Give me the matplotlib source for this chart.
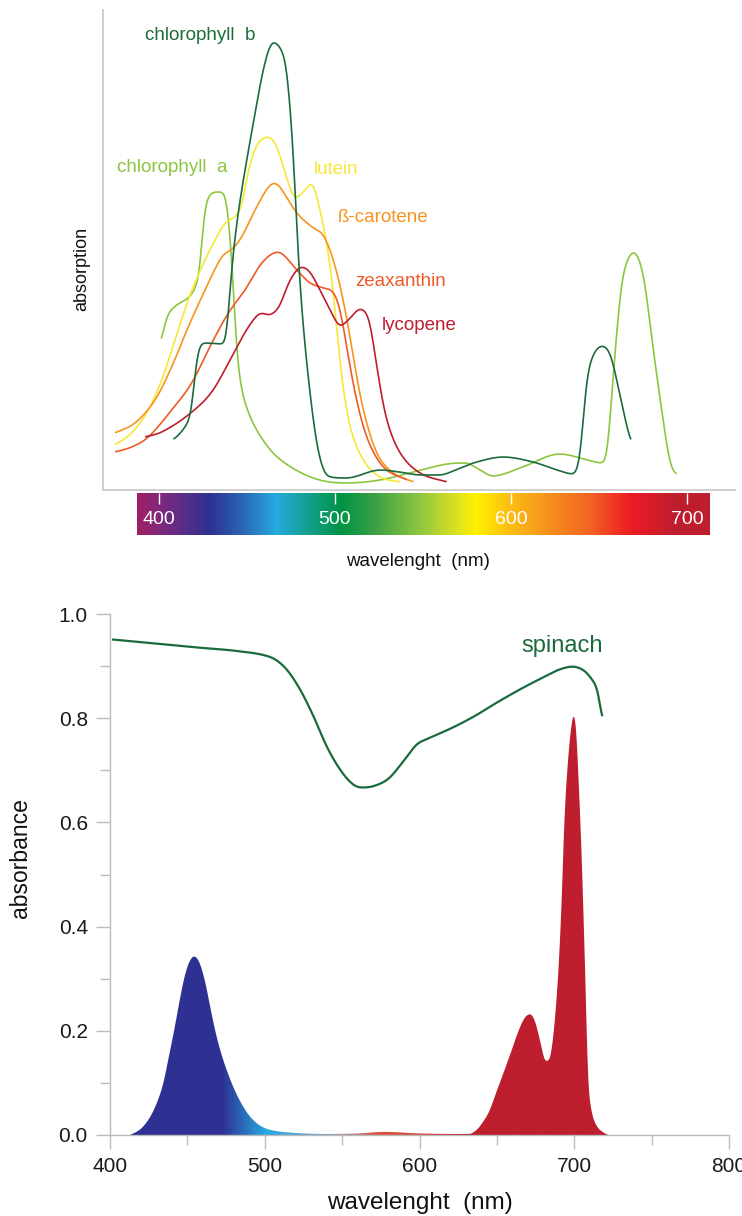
import numpy as np
import matplotlib
matplotlib.use("Agg")
import matplotlib.pyplot as plt
from matplotlib.colors import LinearSegmentedColormap

plt.rcParams['font.family'] = ['Liberation Sans', 'DejaVu Sans']

# ---------------- data: top chart (absorption, arbitrary units) ----------------
chlb_wl = [407.6, 414.2, 418, 420, 422.7, 425.6, 436, 437.9, 439.8, 442.6, 446.4, 452, 459,
           464.2, 469, 472, 475.8, 478.6, 481.4, 485.2, 489, 492.8, 496.6, 506, 525, 536, 548,
           559, 568, 578, 595, 612, 625.6, 634.7, 638.6, 642.4, 647, 651.9, 656, 659.5, 664, 667.6]
chlb_ab = [50, 63, 80, 120, 145, 147, 146, 153, 203, 253, 300, 357, 423,
           448, 440, 420, 335, 230, 163, 97, 47, 20, 13, 12, 20, 18, 15,
           15, 20, 27, 33, 28, 20, 16, 33, 110, 138, 144, 135, 110, 73, 47]

chla_wl = [400.6, 403.8, 409.5, 416, 420, 422.7, 424.6, 426.5, 431.3, 435, 437.9, 439.8, 441.7,
           443, 444.5, 448.3, 455.9, 467.2, 487, 506, 525, 544, 563, 574, 580, 589, 606, 627,
           645, 651, 653.8, 656.6, 659.6, 663, 669.5, 675, 678.8, 684, 689.8, 693.6]
chla_ab = [147, 173, 185, 192, 202, 220, 270, 290, 298, 298, 290, 253, 203,
           153, 120, 87, 57, 32, 12, 7, 10, 18, 26, 27, 22, 14, 23, 36,
           29, 27, 33, 93, 160, 215, 238, 212, 160, 93, 27, 15]

lut_wl = [374.4, 383.9, 393.4, 401, 408.5, 416, 423.7, 431.3, 436.9, 441.7, 445.5, 448.3, 450.2,
          455, 461, 466, 471.5, 476.7, 481, 486.2, 490.9, 494.7, 497.5, 500.4, 503.2, 508, 515.5,
          525, 536.4]
lut_ab = [45, 57, 80, 110, 150, 190, 223, 250, 267, 272, 280, 300, 320,
          345, 353, 345, 315, 292, 297, 307, 280, 247, 213, 163, 113, 63, 30,
          13, 8]

bcar_wl = [374.4, 385.8, 397.2, 406.6, 416, 425.6, 435, 441.7, 446.4, 454, 461.5, 465.3, 468.2,
           477.7, 487.1, 492.8, 498.5, 503.2, 507, 510.8, 515.5, 523.1, 532.6, 544]
bcar_ab = [57, 67, 90, 123, 163, 200, 233, 242, 253, 280, 303, 307, 303,
           277, 262, 255, 230, 197, 163, 123, 80, 37, 17, 8]

zea_wl = [374.4, 383.9, 393.4, 406.6, 418, 429.4, 438.8, 448.3, 457.8, 467, 477.7, 485.2, 492.8,
          498.5, 502.3, 506.1, 510.8, 517.4, 526.9, 540.2]
zea_ab = [38, 43, 53, 80, 107, 147, 177, 200, 227, 238, 220, 207, 202,
          198, 180, 143, 97, 53, 23, 10]

lyc_wl = [391.5, 401, 416, 429.4, 440.7, 450.2, 457.8, 461.5, 465.3, 468.2, 473.9, 480.5, 485.2,
          490.9, 497.5, 502.3, 507, 513.6, 518.4, 521.2, 524.1, 528.8, 536.4, 547.7, 562.9]
lyc_ab = [53, 58, 75, 98, 133, 163, 177, 175, 178, 185, 210, 223, 218,
          200, 177, 164, 170, 181, 173, 147, 113, 70, 37, 17, 8]

pigment_names = ["chlorophyll  b", "chlorophyll  a", "lutein", "ß-carotene", "zeaxanthin", "lycopene"]
pigment_colors = ["#1c6b3a", "#8cc63f", "#f7e736", "#f7941d", "#f05a28", "#be1e2d"]
label_pos = [(391.5, 455), (375.6, 323), (487.5, 321), (501.0, 272), (510.8, 209), (526.0, 165)]

spec_ticks = [400, 500, 600, 700]

# ---------------- data: bottom chart ----------------
spin_wl = [402, 430, 451, 482, 503, 512.5, 521.7, 531, 540, 549, 557, 563, 570.7, 580, 589, 598,
           604, 620, 635, 650, 666, 681, 690, 699, 706, 711, 715, 718]
spin_ab = [0.951, 0.943, 0.937, 0.929, 0.918, 0.899, 0.861, 0.807, 0.746, 0.700, 0.673, 0.667,
           0.670, 0.684, 0.715, 0.749, 0.759, 0.780, 0.803, 0.830, 0.857, 0.880, 0.893, 0.899,
           0.892, 0.876, 0.853, 0.798]

lamp_wl = [413, 420, 426, 431, 434.5, 438, 441.4, 444.5, 447.5, 450.5, 454.3, 457.5, 461, 464.5,
           468, 472, 476, 480, 485, 490.6, 497, 503.5, 515, 540, 560, 577, 600, 625, 632, 637,
           641, 645, 650, 655, 659.6, 664, 668, 671.7, 675, 678, 681.5, 684, 686.5, 688, 689.5,
           691.2, 692.5, 693.5, 695.5, 697.5, 699.8, 701.5, 702.5, 704, 705.2, 706.2, 707.2, 708,
           709, 710, 712, 715, 719.3, 722]
lamp_ab = [0.0, 0.012, 0.035, 0.067, 0.10, 0.15, 0.20, 0.25, 0.295, 0.327, 0.343, 0.333, 0.30,
           0.25, 0.20, 0.155, 0.12, 0.09, 0.06, 0.035, 0.018, 0.010, 0.005, 0.002, 0.003, 0.006,
           0.003, 0.002, 0.002, 0.010, 0.025, 0.045, 0.085, 0.125, 0.163, 0.20, 0.225, 0.232,
           0.215, 0.18, 0.142, 0.145, 0.19, 0.24, 0.30, 0.40, 0.50, 0.60, 0.70, 0.77, 0.808, 0.77,
           0.70, 0.60, 0.50, 0.40, 0.30, 0.20, 0.10, 0.067, 0.035, 0.015, 0.004, 0.0]

x_ticks = [400, 500, 600, 700, 800]
x_minor = [450, 550, 650, 750]
y_ticks = [0.0, 0.2, 0.4, 0.6, 0.8, 1.0]
y_minor = [0.1, 0.3, 0.5, 0.7, 0.9]


def hermite(x, y, xs):
    """Limited Catmull-Rom cubic through the read points (for drawing only)."""
    x = np.asarray(x, float)
    y = np.asarray(y, float)
    n = len(x)
    h = np.diff(x)
    d = np.diff(y) / h
    m = np.zeros(n)
    m[1:-1] = (y[2:] - y[:-2]) / (x[2:] - x[:-2])
    for k in range(1, n - 1):
        if d[k - 1] * d[k] <= 0:
            m[k] = 0.0
        else:
            lim = 3 * min(abs(d[k - 1]), abs(d[k]))
            m[k] = np.sign(m[k]) * min(abs(m[k]), lim)
    m[0] = d[0]
    m[-1] = d[-1]
    idx = np.clip(np.searchsorted(x, xs) - 1, 0, n - 2)
    t = (xs - x[idx]) / h[idx]
    h00 = 2 * t**3 - 3 * t**2 + 1
    h10 = t**3 - 2 * t**2 + t
    h01 = -2 * t**3 + 3 * t**2
    h11 = t**3 - t**2
    return h00 * y[idx] + h10 * h[idx] * m[idx] + h01 * y[idx + 1] + h11 * h[idx] * m[idx + 1]


def smooth(x, y, sigma=1.0, step=0.1):
    xs = np.arange(x[0], x[-1] + step / 2, step)
    ys = hermite(x, y, xs)
    k = int(np.ceil(3 * sigma / step))
    ker = np.exp(-0.5 * (np.arange(-k, k + 1) * step / sigma) ** 2)
    ker /= ker.sum()
    yp = np.concatenate([np.full(k, ys[0]), ys, np.full(k, ys[-1])])
    return xs, np.convolve(yp, ker, mode="valid")


W, H = 742, 1216
fig = plt.figure(figsize=(W / 100, H / 100), dpi=100)


def px_axes(l, t, r, b):
    return fig.add_axes([l / W, 1 - b / H, (r - l) / W, (b - t) / H])


# ---------------- top chart ----------------
ax1 = px_axes(103, 10, 735, 490)
ax1.set_xlim(367.6, 726.7)
ax1.set_ylim(0, 480)
for s in ["top", "right"]:
    ax1.spines[s].set_visible(False)
for s in ["left", "bottom"]:
    ax1.spines[s].set_color("#cccccc")
    ax1.spines[s].set_linewidth(1.3)
ax1.set_xticks([])
ax1.set_yticks([])

series = [(chlb_wl, chlb_ab), (chla_wl, chla_ab), (lut_wl, lut_ab),
          (bcar_wl, bcar_ab), (zea_wl, zea_ab), (lyc_wl, lyc_ab)]
order = [1, 2, 3, 4, 5, 0]
for i in order:
    wl, ab = series[i]
    xs, ys = smooth(wl, ab, sigma=1.3)
    ax1.plot(xs, ys, color=pigment_colors[i], lw=1.2, solid_capstyle="butt")
for name, col, (lx, ly) in zip(pigment_names, pigment_colors, label_pos):
    ax1.text(lx, ly, name, color=col, fontsize=13.5, ha="left", va="center")

fig.text(82 / W, 1 - 269 / H, "absorption", rotation=90, ha="center", va="center",
         fontsize=13, color="#111111")

# spectrum bar
axc = px_axes(137, 493, 710, 535)
lam0, lam1 = 387.5, 713.0
axc.set_xlim(lam0, lam1)
axc.set_ylim(0, 1)
bar_stops = [(387.5, "#9e1f63"), (402, "#7b2a80"), (428, "#2e3192"), (446, "#2a62b3"),
             (466, "#27aae1"), (485, "#12a08a"), (503, "#009444"), (522, "#3b9f46"),
             (548, "#8dc63f"), (567, "#d3de25"), (580, "#fff200"), (598, "#fcc111"),
             (620, "#f7941d"), (645, "#f26522"), (668, "#ed1c24"), (694, "#be1e2d"),
             (713, "#be1e2d")]
cm_bar = LinearSegmentedColormap.from_list(
    "bar", [((l - lam0) / (lam1 - lam0), c) for l, c in bar_stops])
grad = np.linspace(lam0, lam1, 1000)[None, :]
axc.imshow(grad, extent=[lam0, lam1, 0, 1], aspect="auto", cmap=cm_bar,
           vmin=lam0, vmax=lam1, origin="lower")
axc.vlines(spec_ticks, 0.74, 1.0, color="white", lw=1.0)
for t in spec_ticks:
    axc.text(t, 0.36, str(t), color="white", fontsize=14, ha="center", va="center")
axc.set_axis_off()

fig.text(418 / W, 1 - 562 / H, "wavelenght  (nm)", ha="center", va="center",
         fontsize=13.5, color="#111111")

# ---------------- bottom chart ----------------
ax2 = px_axes(110, 614, 729, 1135)
fill_stops = [(400, "#2e3192"), (472, "#2e3192"), (500, "#27aae1"), (518, "#4fa6da"),
              (545, "#9a9db5"), (572, "#d9583f"), (600, "#d04a3a"), (628, "#be1e2d"),
              (800, "#be1e2d")]
cm_fill = LinearSegmentedColormap.from_list(
    "fill", [((l - 400) / 400.0, c) for l, c in fill_stops])

xs, ys = smooth(lamp_wl, lamp_ab, sigma=0.7, step=0.05)
ys = np.clip(ys, 0, None)
coll = ax2.fill_between(xs, ys, 0, facecolor="none", edgecolor="none")
clip = coll.get_paths()[0]
g2 = np.linspace(400, 800, 1600)[None, :]
im = ax2.imshow(g2, extent=[400, 800, 0, 1], aspect="auto", cmap=cm_fill,
                vmin=400, vmax=800, origin="lower", zorder=1)
im.set_clip_path(clip, transform=ax2.transData)

sx, sy = smooth(spin_wl, spin_ab, sigma=1.0)
ax2.plot(sx, sy, color="#1a6b3c", lw=1.6, zorder=3)
ax2.text(666, 0.939, "spinach", color="#1a6b3c", fontsize=17, ha="left", va="center")

ax2.set_xlim(400, 800)
ax2.set_ylim(0, 1.0)
for s in ["top", "right"]:
    ax2.spines[s].set_visible(False)
for s in ["left", "bottom"]:
    ax2.spines[s].set_color("#bbbbbb")
    ax2.spines[s].set_linewidth(1.0)
ax2.set_xticks(x_ticks)
ax2.set_xticks(x_minor, minor=True)
ax2.set_yticks(y_ticks)
ax2.set_yticks(y_minor, minor=True)
ax2.set_xticklabels([str(v) for v in x_ticks])
ax2.set_yticklabels([f"{v:.1f}" for v in y_ticks])
ax2.tick_params(which="major", direction="out", length=10, width=1, color="#bbbbbb",
                labelsize=15, labelcolor="#1a1a1a", pad=6)
ax2.tick_params(which="minor", direction="out", length=7, width=1, color="#bbbbbb")

fig.text(21 / W, 1 - 858 / H, "absorbance", rotation=90, ha="center", va="center",
         fontsize=16.5, color="#111111")
fig.text(420 / W, 1 - 1203 / H, "wavelenght  (nm)", ha="center", va="center",
         fontsize=17.5, color="#111111")

fig.savefig("out.png", dpi=100)
